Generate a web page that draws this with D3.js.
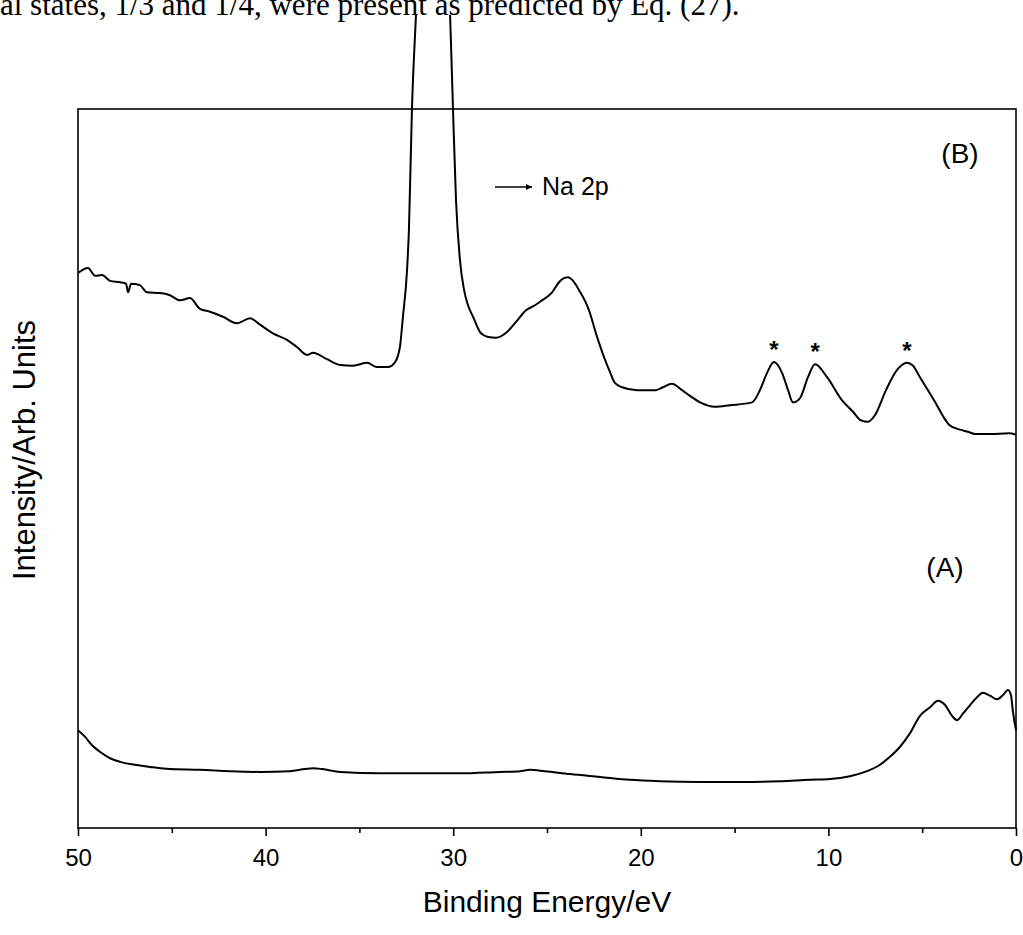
<!DOCTYPE html>
<html>
<head>
<meta charset="utf-8">
<script src="https://cdn.jsdelivr.net/npm/d3@7"></script>
<style>
  html, body { margin: 0; padding: 0; background: #fff; }
  svg { display: block; }
</style>
</head>
<body>
<svg id="chart" width="1023" height="935"></svg>
<script>
// ---------- DATA ----------
const xTicks = [50, 40, 30, 20, 10, 0];
const xMinorTicks = [45, 35, 25, 15, 5];
const xLabel = "Binding Energy/eV";
const yLabel = "Intensity/Arb. Units";
const topText = "al states, 1/3 and 1/4, were present as predicted by Eq. (27).";

// Spectrum (B) — binding energy (eV) and intensity (arb. units)
const energyB = [50.00,49.47,49.09,48.72,48.29,47.76,47.44,47.33,47.17,46.70,46.32,45.63,45.10,44.56,44.03,43.50,42.96,42.27,41.52,40.83,40.30,39.61,38.86,38.33,37.79,37.47,36.73,36.03,35.34,34.59,34.06,33.48,33.10,32.84,32.68,32.46,32.36,32.20,31.98,31.82,31.50,31.08,30.65,30.33,30.17,30.01,29.85,29.64,29.42,29.21,28.94,28.52,28.14,27.72,27.13,26.65,26.12,25.64,25.37,24.73,24.36,24.15,23.88,23.61,23.29,22.76,22.39,21.96,21.64,21.38,21.00,20.20,19.19,18.82,18.34,17.80,17.38,16.84,16.04,15.25,14.07,13.65,13.27,12.90,12.47,12.15,11.89,11.51,11.09,10.71,10.07,9.28,8.69,8.26,7.89,7.52,6.93,6.34,5.81,5.49,5.12,4.37,3.57,2.99,2.56,2.19,1.39,0.37,0.00];
const intensityB = [77.2,77.9,76.8,76.9,76.1,75.9,75.7,74.5,75.7,75.5,74.5,74.4,74.1,73.4,73.7,72.2,71.8,71.1,70.2,70.9,70.0,68.8,67.9,66.9,65.8,66.1,65.2,64.4,64.3,64.7,64.1,64.1,64.8,66.9,71.1,77.6,83.2,99.9,113.4,123.5,130.5,133.2,130.5,123.5,113.4,99.9,87.3,79.0,74.8,72.7,71.1,68.8,68.3,68.2,69.0,70.4,72.0,72.7,73.2,74.5,75.9,76.4,76.6,76.1,74.8,72.0,68.8,65.5,63.4,61.9,61.3,60.9,60.9,61.3,61.8,60.9,60.1,59.2,58.6,58.8,59.2,60.9,63.3,64.8,63.3,60.9,59.2,59.8,62.7,64.5,62.7,59.5,57.9,56.7,56.5,57.4,60.9,63.7,64.7,64.3,62.7,59.5,56.1,55.4,55.1,54.8,54.8,54.9,54.7];

// Spectrum (A)
const energyA = [50.00,49.63,49.25,48.83,48.29,47.76,46.96,46.16,45.10,43.50,41.90,40.30,38.70,37.90,37.47,36.99,36.03,33.90,31.77,29.64,27.51,26.44,25.91,25.11,23.77,22.17,20.58,18.98,16.84,14.71,12.58,10.98,9.91,8.85,8.05,7.25,6.72,6.18,5.65,5.12,4.58,4.16,3.78,3.41,3.14,2.83,2.45,2.08,1.76,1.39,1.01,0.69,0.43,0.27,0.16,0.00];
const intensityA = [13.6,12.7,11.5,10.6,9.7,9.2,8.8,8.5,8.2,8.1,7.9,7.8,7.9,8.2,8.3,8.2,7.8,7.6,7.6,7.6,7.8,7.9,8.1,7.9,7.5,7.1,6.7,6.5,6.4,6.4,6.5,6.7,6.8,7.2,7.8,8.8,9.9,11.3,13.2,15.6,16.8,17.7,17.1,15.6,15.0,15.9,17.1,18.2,18.8,18.4,17.9,18.5,19.2,18.5,16.1,13.6];

// Peak markers (*) at these energies
const starEnergies = [12.90, 10.71, 5.81];
const starIntensities = [64.8, 64.5, 64.7];

// ---------- LAYOUT ----------
const svg = d3.select("#chart");
const frame = { left: 78, right: 1016, top: 109, bottom: 828 };
const x = d3.scaleLinear().domain([50, 0]).range([frame.left, frame.right]);
const y = d3.scaleLinear().domain([0, 100]).range([frame.bottom, frame.top]);

const FONT = "'Liberation Sans', Arial, Helvetica, sans-serif";

// Top running text (article text above the figure, cut by the page edge)
svg.append("text")
  .attr("x", 0).attr("y", 15)
  .attr("font-family", "'Liberation Serif', 'Times New Roman', serif")
  .attr("font-size", 31)
  .attr("fill", "#000")
  .text(topText);

// Clip so the peak runs past the frame but is cut where the figure image ends
svg.append("defs").append("clipPath").attr("id", "figclip")
  .append("rect").attr("x", 0).attr("y", 15).attr("width", 1023).attr("height", 920);

// Frame
svg.append("rect")
  .attr("x", frame.left).attr("y", frame.top)
  .attr("width", frame.right - frame.left).attr("height", frame.bottom - frame.top)
  .attr("fill", "none").attr("stroke", "#000").attr("stroke-width", 1.6);

// Bottom axis
const axis = d3.axisBottom(x).tickValues(xTicks).tickSize(8).tickPadding(13).tickFormat(d3.format("d"));
const gAxis = svg.append("g").attr("transform", `translate(0,${frame.bottom})`).call(axis);
gAxis.select(".domain").remove();
gAxis.selectAll(".tick line").attr("stroke", "#000").attr("stroke-width", 1.6);
gAxis.selectAll(".tick text").attr("font-family", FONT).attr("font-size", 24).attr("fill", "#000");
const minorAxis = d3.axisBottom(x).tickValues(xMinorTicks).tickSize(5).tickFormat("");
const gMinor = svg.append("g").attr("transform", `translate(0,${frame.bottom})`).call(minorAxis);
gMinor.select(".domain").remove();
gMinor.selectAll(".tick line").attr("stroke", "#000").attr("stroke-width", 1.6);

// Axis titles
svg.append("text")
  .attr("x", (frame.left + frame.right) / 2).attr("y", 912)
  .attr("text-anchor", "middle")
  .attr("font-family", FONT).attr("font-size", 30).attr("fill", "#000")
  .text(xLabel);
svg.append("text")
  .attr("transform", `translate(35,450) rotate(-90)`)
  .attr("text-anchor", "middle")
  .attr("font-family", FONT).attr("font-size", 31).attr("fill", "#000")
  .text(yLabel);

// Curves
const line = d3.line()
  .x(d => x(d[0]))
  .y(d => y(d[1]))
  .curve(d3.curveMonotoneX);
const dataB = energyB.map((e, i) => [e, intensityB[i]]);
const dataA = energyA.map((e, i) => [e, intensityA[i]]);
const gCurves = svg.append("g").attr("clip-path", "url(#figclip)");
gCurves.append("path").datum(dataB).attr("d", line)
  .attr("fill", "none").attr("stroke", "#000").attr("stroke-width", 2).attr("stroke-linejoin", "round");
gCurves.append("path").datum(dataA).attr("d", line)
  .attr("fill", "none").attr("stroke", "#000").attr("stroke-width", 2).attr("stroke-linejoin", "round");

// Stars
svg.selectAll("text.star").data(starEnergies).enter().append("text")
  .attr("class", "star")
  .attr("x", d => x(d))
  .attr("y", (d, i) => y(starIntensities[i]) - 4)
  .attr("text-anchor", "middle")
  .attr("font-family", FONT).attr("font-size", 24).attr("font-weight", "bold").attr("fill", "#000")
  .text("*");

// Panel labels
svg.append("text").attr("x", 960).attr("y", 163).attr("text-anchor", "middle")
  .attr("font-family", FONT).attr("font-size", 28).attr("fill", "#000").text("(B)");
svg.append("text").attr("x", 945).attr("y", 577).attr("text-anchor", "middle")
  .attr("font-family", FONT).attr("font-size", 28).attr("fill", "#000").text("(A)");

// Na 2p annotation with arrow
const defs = svg.select("defs");
defs.append("marker").attr("id", "arrowhead")
  .attr("viewBox", "0 0 10 10").attr("refX", 10).attr("refY", 5)
  .attr("markerWidth", 8).attr("markerHeight", 6).attr("orient", "auto").attr("markerUnits", "userSpaceOnUse")
  .append("path").attr("d", "M0,0 L10,5 L0,10 z").attr("fill", "#000");
svg.append("line").attr("x1", 495).attr("x2", 532).attr("y1", 187).attr("y2", 187)
  .attr("stroke", "#000").attr("stroke-width", 1.5).attr("marker-end", "url(#arrowhead)");
svg.append("text").attr("x", 542).attr("y", 195)
  .attr("font-family", FONT).attr("font-size", 25).attr("fill", "#000").text("Na 2p");
</script>
</body>
</html>
